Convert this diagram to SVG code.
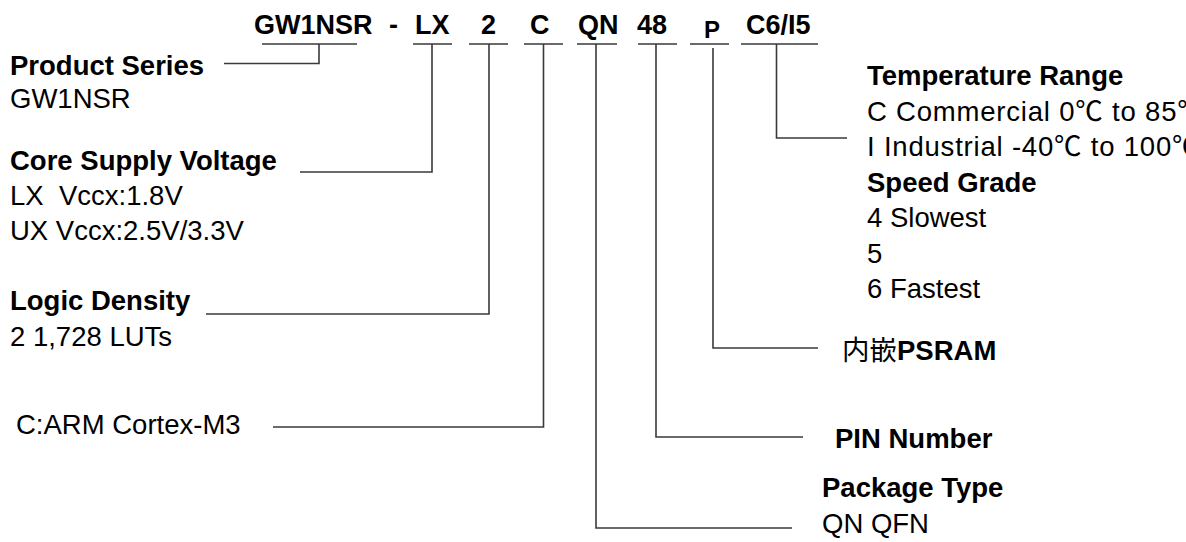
<svg xmlns="http://www.w3.org/2000/svg" width="1186" height="542" viewBox="0 0 1186 542">
<style>
text{font-family:"Liberation Sans",Arial,"Noto Sans CJK SC",sans-serif;fill:#000;font-size:27.5px}
.b{font-weight:bold}
.h{font-weight:bold;font-size:27px}
.cn{font-weight:normal}
.w{letter-spacing:0.8px}
.ln{fill:none;stroke:#3a3a3a;stroke-width:1.6}
</style>
<rect width="1186" height="542" fill="#fff"/>
<g id="header">
<text class="h" x="254" y="34">GW1NSR</text>
<text class="h" x="389" y="34">-</text>
<text class="h" x="415" y="34">LX</text>
<text class="h" x="481" y="34">2</text>
<text class="h" x="530" y="34">C</text>
<text class="h" x="578" y="34">QN</text>
<text class="h" x="637" y="34">48</text>
<text class="h" x="704" y="38" style="font-size:24px">P</text>
<text class="h" x="746" y="34">C6/I5</text>
</g>
<g id="product-series">
<text class="b" x="10" y="75">Product Series</text>
<text x="10" y="108">GW1NSR</text>
</g>
<g id="core-supply-voltage">
<text class="b" x="10" y="170">Core Supply Voltage</text>
<text x="10" y="205" xml:space="preserve">LX  Vccx:1.8V</text>
<text x="10" y="240">UX Vccx:2.5V/3.3V</text>
</g>
<g id="logic-density">
<text class="b" x="10" y="310">Logic Density</text>
<text x="10" y="346">2 1,728 LUTs</text>
</g>
<g id="cortex">
<text x="16" y="434">C:ARM Cortex-M3</text>
</g>
<g id="temperature-speed">
<text class="b" x="867" y="85">Temperature Range</text>
<text class="w" x="867" y="120.5">C Commercial 0℃ to 85℃</text>
<text class="w" x="867" y="156">I Industrial -40℃ to 100℃</text>
<text class="b" x="867" y="191.5">Speed Grade</text>
<text x="867" y="227">4 Slowest</text>
<text x="867" y="262.5">5</text>
<text x="867" y="298">6 Fastest</text>
</g>
<g id="psram">
<text class="b" x="842" y="360"><tspan class="cn">内嵌</tspan>PSRAM</text>
</g>
<g id="pin-number">
<text class="b" x="835" y="448">PIN Number</text>
</g>
<g id="package-type">
<text class="b" x="822" y="497">Package Type</text>
<text x="822" y="533">QN QFN</text>
</g>
<g id="connectors" class="ln">
<path class="ln" d="M262 44H357M319 44V63.5H224"/>
<path class="ln" d="M413 44H452M432 44V172H300"/>
<path class="ln" d="M469 44H508M489 44V314H206"/>
<path class="ln" d="M524 44H563M543.5 44V427H273"/>
<path class="ln" d="M577 44H617M596 44V528H792"/>
<path class="ln" d="M638 44H677M656 44V437H803"/>
<path class="ln" d="M690 44H729M713 48V348H818"/>
<path class="ln" d="M741 44H818M776.5 44V138H847"/>
</g>
</svg>
